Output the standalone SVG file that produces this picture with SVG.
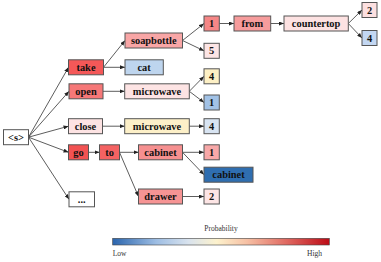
<svg xmlns="http://www.w3.org/2000/svg" width="381" height="262" viewBox="0 0 381 262">
<defs>
<marker id="ah" markerUnits="userSpaceOnUse" markerWidth="5" markerHeight="4" refX="5" refY="2" orient="auto">
<path d="M0,0 L5,2 L0,4 z" fill="#222"/>
</marker>
<linearGradient id="cb" x1="0" y1="0" x2="1" y2="0">
<stop offset="0" stop-color="#2b65ad"/>
<stop offset="0.2" stop-color="#9dbde3"/>
<stop offset="0.35" stop-color="#d9e3ee"/>
<stop offset="0.48" stop-color="#fdf2cd"/>
<stop offset="0.62" stop-color="#f6c0a4"/>
<stop offset="0.8" stop-color="#e06a62"/>
<stop offset="1" stop-color="#bc0b16"/>
</linearGradient>
</defs>
<style>
.n rect{stroke:#555;stroke-width:1}
.n text{font-family:"Liberation Serif","Times New Roman",serif;font-weight:bold;font-size:10.4px;text-anchor:middle;fill:#111}
#edges line{stroke:#333;stroke-width:0.8;marker-end:url(#ah)}
.lbl{font-family:"Liberation Serif","Times New Roman",serif;font-size:7.5px;fill:#333}
</style>
<rect width="381" height="262" fill="#fff"/>
<g id="edges">
<line x1="28.5" y1="137.2" x2="68.5" y2="67.3"/>
<line x1="28.5" y1="137.2" x2="69" y2="91.3"/>
<line x1="28.5" y1="137.2" x2="68.5" y2="126.2"/>
<line x1="28.5" y1="137.2" x2="68.5" y2="152.3"/>
<line x1="28.5" y1="137.2" x2="69" y2="199.3"/>
<line x1="103.5" y1="67.3" x2="125" y2="40.5"/>
<line x1="103.5" y1="67.3" x2="125" y2="67.3"/>
<line x1="103" y1="91.3" x2="124.7" y2="91.3"/>
<line x1="102.5" y1="126.2" x2="124.7" y2="126.2"/>
<line x1="88.5" y1="152.3" x2="99.5" y2="152.3"/>
<line x1="119.5" y1="152.3" x2="138.5" y2="152.3"/>
<line x1="119.5" y1="152.3" x2="138.5" y2="196.5"/>
<line x1="182.5" y1="40.5" x2="204" y2="23.5"/>
<line x1="182.5" y1="40.5" x2="204" y2="50.8"/>
<line x1="219.3" y1="23.5" x2="234" y2="23.5"/>
<line x1="270.7" y1="23.5" x2="284" y2="23.5"/>
<line x1="348.3" y1="23.5" x2="362" y2="10"/>
<line x1="348.3" y1="23.5" x2="362" y2="38"/>
<line x1="189.3" y1="91.3" x2="204" y2="76.3"/>
<line x1="189.3" y1="91.3" x2="204" y2="102.5"/>
<line x1="189.3" y1="126.2" x2="204" y2="126.2"/>
<line x1="182.5" y1="152.3" x2="204" y2="152.3"/>
<line x1="182.5" y1="152.3" x2="204" y2="174.7"/>
<line x1="182.5" y1="196.5" x2="204" y2="196.5"/>
</g>
<g id="n-s" class="n"><rect x="3.5" y="129.7" width="25" height="15" fill="#fff"/><text x="16" y="140.7">&lt;s&gt;</text></g>
<g id="n-take" class="n"><rect x="68.5" y="59.8" width="35" height="15" fill="#f45858"/><text x="86" y="70.8">take</text></g>
<g id="n-open" class="n"><rect x="69" y="83.8" width="34" height="15" fill="#f67878"/><text x="86" y="94.8">open</text></g>
<g id="n-close" class="n"><rect x="68.5" y="118.7" width="34" height="15" fill="#fde3e3"/><text x="85.5" y="129.7">close</text></g>
<g id="n-go" class="n"><rect x="68.5" y="144.8" width="20" height="15" fill="#f25252"/><text x="78.5" y="155.8">go</text></g>
<g id="n-to" class="n"><rect x="99.5" y="144.8" width="20" height="15" fill="#f46262"/><text x="109.5" y="155.8">to</text></g>
<g id="n-more" class="n"><rect x="69" y="191.8" width="25.5" height="15" fill="#fff"/><text x="81.7" y="202.8">...</text></g>
<g id="n-soapbottle" class="n"><rect x="125" y="33" width="57.5" height="15" fill="#f8a6a6"/><text x="153.7" y="44">soapbottle</text></g>
<g id="n-cat" class="n"><rect x="125" y="59.8" width="38.3" height="15" fill="#bed5ee"/><text x="144.1" y="70.8">cat</text></g>
<g id="n-microwave1" class="n"><rect x="124.7" y="83.8" width="64.6" height="15" fill="#fde4e4"/><text x="157" y="94.8">microwave</text></g>
<g id="n-microwave2" class="n"><rect x="124.7" y="118.7" width="64.6" height="15" fill="#fdf0c8"/><text x="157" y="129.7">microwave</text></g>
<g id="n-cabinet1" class="n"><rect x="138.5" y="144.8" width="44" height="15" fill="#f69090"/><text x="160.5" y="155.8">cabinet</text></g>
<g id="n-drawer" class="n"><rect x="138.5" y="189" width="44" height="15" fill="#f69494"/><text x="160.5" y="200">drawer</text></g>
<g id="n-1a" class="n"><rect x="204" y="16" width="15.3" height="15" fill="#f58686"/><text x="211.6" y="27">1</text></g>
<g id="n-5" class="n"><rect x="204" y="43.3" width="15.3" height="15" fill="#fde5e5"/><text x="211.6" y="54.3">5</text></g>
<g id="n-from" class="n"><rect x="234" y="16" width="36.7" height="15" fill="#f69c9c"/><text x="252.3" y="27">from</text></g>
<g id="n-countertop" class="n"><rect x="284" y="16" width="64.3" height="15" fill="#fde2e2"/><text x="316.1" y="27">countertop</text></g>
<g id="n-2a" class="n"><rect x="362" y="2.5" width="15" height="15" fill="#fde0e0"/><text x="369.5" y="13.5">2</text></g>
<g id="n-4a" class="n"><rect x="362" y="30.5" width="15" height="15" fill="#c3d7f2"/><text x="369.5" y="41.5">4</text></g>
<g id="n-4b" class="n"><rect x="204" y="68.8" width="15.3" height="15" fill="#fdf0c5"/><text x="211.6" y="79.8">4</text></g>
<g id="n-1b" class="n"><rect x="204" y="95" width="15.3" height="15" fill="#a2c2e6"/><text x="211.6" y="106">1</text></g>
<g id="n-4c" class="n"><rect x="204" y="118.7" width="15.3" height="15" fill="#d8e4f2"/><text x="211.6" y="129.7">4</text></g>
<g id="n-1c" class="n"><rect x="204" y="144.8" width="15.3" height="15" fill="#f8a8a8"/><text x="211.6" y="155.8">1</text></g>
<g id="n-cabinet2" class="n"><rect x="204" y="167.2" width="49" height="15" fill="#2f6eb0"/><text x="228.5" y="178.2">cabinet</text></g>
<g id="n-2b" class="n"><rect x="204" y="189" width="15.3" height="15" fill="#fde5e5"/><text x="211.6" y="200">2</text></g>
<g id="colorbar">
<text class="lbl" x="221" y="231" text-anchor="middle">Probability</text>
<rect x="112.7" y="238.3" width="216.6" height="6.7" fill="url(#cb)" stroke="#444" stroke-width="0.6"/>
<text class="lbl" x="112.7" y="256">Low</text>
<text class="lbl" x="322" y="256" text-anchor="end">High</text>
</g>
</svg>
